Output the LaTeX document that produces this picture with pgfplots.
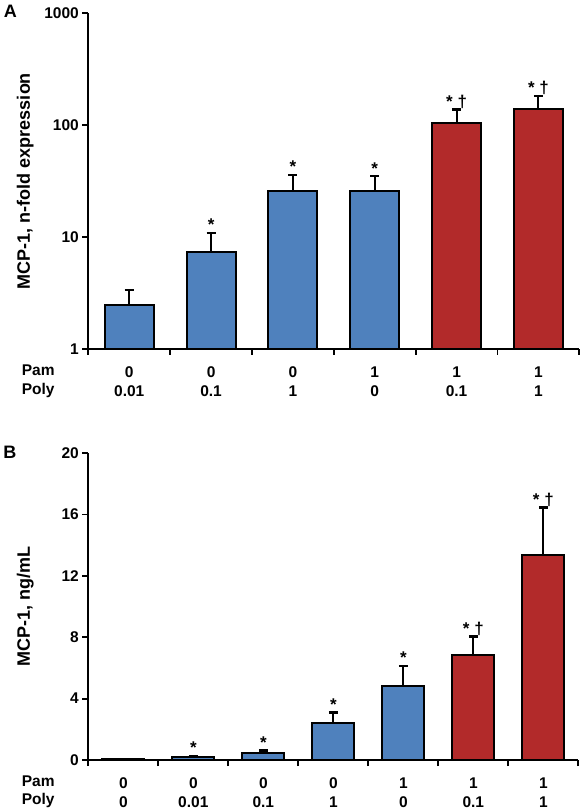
\documentclass[border=0pt]{standalone}
\usepackage{fontspec}
\setmainfont{Liberation Sans}
\usepackage{pgfplots}
\pgfplotsset{compat=1.18}
\definecolor{barblue}{HTML}{4F81BD}
\definecolor{barred}{HTML}{B22A2A}
\pgfplotsset{
  panel/.style={
    scale only axis, clip=false,
    axis x line*=bottom, axis y line*=left,
    axis line style={line width=1.8pt},
    tick style={line width=1.8pt, black},
    tick align=outside, major tick length=6pt,
    /pgf/number format/assume math mode=true,
    tick label style={font=\bfseries\fontsize{15.5}{19}\selectfont},
    x tick label style={align=center, yshift=-14pt},
    label style={font=\bfseries\fontsize{18}{18}\selectfont},
    ylabel style={at={([xshift=-63pt]axis description cs:0,0.5)}, anchor=center},
    extra x tick style={major tick length=0pt},
  },
  mybar/.style={ybar, bar width=0.6, bar shift=0pt, fill=#1, draw=black, line width=2pt,
    error bars/.cd, y dir=plus, y explicit,
    error bar style={line width=2pt, black},
    error mark options={rotate=90, line width=2.4pt, mark size=4.5pt, black}},
  ann/.style={draw=none, nodes near coords, point meta=explicit symbolic,
    nodes near coords style={anchor=base, yshift=2pt, font=\bfseries\fontsize{17}{17}\selectfont, text=black}},
}
\begin{document}
\begin{tikzpicture}[font=\bfseries]
\path (0,0) rectangle (583pt,-811pt);
\node[font=\bfseries\fontsize{18}{18}\selectfont] at (10pt,-11.5pt) {A};
\node[font=\bfseries\fontsize{18}{18}\selectfont] at (9.5pt,-452.5pt) {B};
\node[anchor=base west, font=\bfseries\fontsize{15.5}{15.5}\selectfont] at (18pt,-375pt) {Pam};
\node[anchor=base west, font=\bfseries\fontsize{15.5}{15.5}\selectfont] at (18pt,-394pt) {Poly};
\node[anchor=base west, font=\bfseries\fontsize{15.5}{15.5}\selectfont] at (18pt,-786pt) {Pam};
\node[anchor=base west, font=\bfseries\fontsize{15.5}{15.5}\selectfont] at (18pt,-804pt) {Poly};

\begin{axis}[panel,
  at={(88pt,-349pt)}, anchor=south west,
  width=491pt, height=336pt,
  xmin=0.5, xmax=6.5,
  ymode=log, ymin=1, ymax=1000,
  ytick={1,10,100,1000}, yticklabels={1,10,100,1000},
  yminorticks=false,
  xtick={0.5,1.5,...,6.5}, xticklabels={},
  extra x ticks={1,2,3,4,5,6},
  extra x tick labels={{0\\0.01},{0\\0.1},{0\\1},{1\\0},{1\\0.1},{1\\1}},
  ylabel={MCP-1, n-fold expression},
]
\addplot[mybar=barblue] table[x=x, y=y, y error=e] {
x y e
1 2.47 0.89
2 7.35 3.55
3 25.9 9.9
4 25.8 9.2
};
\addplot[mybar=barred] table[x=x, y=y, y error=e] {
x y e
5 104 34
6 140 42
};
\addplot[ann] table[x=x, y=t, meta=lab, col sep=comma] {
x,t,lab
2,10.9,*
3,35.8,*
4,35.0,*
5,138,* †
6,182,* †
};
\end{axis}

\begin{axis}[panel,
  at={(88pt,-760pt)}, anchor=south west,
  width=490pt, height=307pt,
  xmin=0.5, xmax=7.5,
  ymin=0, ymax=20,
  ytick={0,4,8,12,16,20},
  xtick={0.5,1.5,...,7.5}, xticklabels={},
  extra x ticks={1,2,3,4,5,6,7},
  extra x tick labels={{0\\0},{0\\0.01},{0\\0.1},{0\\1},{1\\0},{1\\0.1},{1\\1}},
  ylabel={MCP-1, ng/mL},
]
\addplot[mybar=barblue] table[x=x, y=y, y error=e] {
x y e
1 0.06 0.0
2 0.20 0.07
3 0.45 0.17
4 2.43 0.66
5 4.85 1.28
};
\addplot[mybar=barred] table[x=x, y=y, y error=e] {
x y e
6 6.87 1.17
7 13.37 3.09
};
\addplot[ann] table[x=x, y=t, meta=lab, col sep=comma] {
x,t,lab
2,0.27,*
3,0.62,*
4,3.09,*
5,6.13,*
6,8.04,* †
7,16.46,* †
};
\end{axis}
\end{tikzpicture}
\end{document}
